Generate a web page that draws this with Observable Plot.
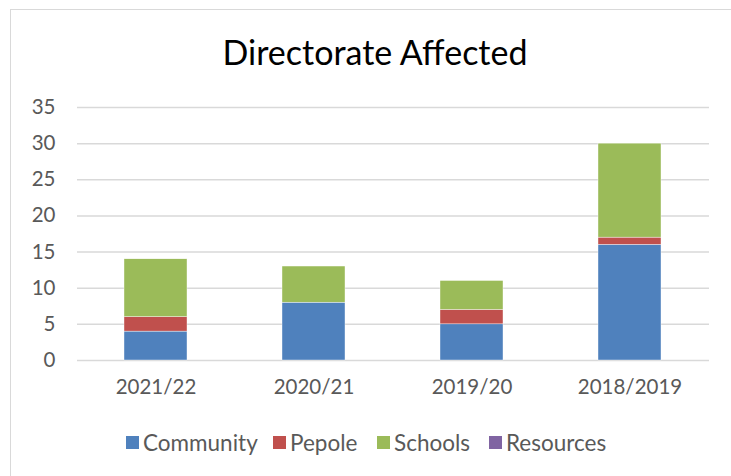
<!DOCTYPE html>
<html><head><meta charset="utf-8">
<script src="https://cdn.jsdelivr.net/npm/d3@7"></script>
<script src="https://cdn.jsdelivr.net/npm/@observablehq/plot@0.6"></script>
<style>
body{margin:0;background:#fff;font-family:Lato,"Open Sans",sans-serif;}
#box{position:absolute;left:10px;top:9px;width:760px;height:520px;border:1px solid #d9d9d9;box-sizing:border-box;}
#title{position:absolute;left:0;width:750px;top:31px;text-align:center;font-size:34px;color:#000;font-family:Lato,"Open Sans",sans-serif;}
#chart{position:absolute;left:0;top:90px;}
#legend{position:absolute;top:429px;left:0;width:731px;height:26px;font-size:22.5px;color:#595959;}
.item{position:absolute;top:0;display:flex;align-items:center;}
.sw{width:13px;height:13px;margin-right:4px;}
</style></head>
<body>
<div id="box"></div>
<div id="title">Directorate Affected</div>
<div id="chart"></div>
<div id="legend"></div>
<script>
const categories = ["2021/22","2020/21","2019/20","2018/2019"];
const seriesNames = ["Community","Pepole","Schools","Resources"];
const community = [4, 8, 5, 16];
const pepole = [2, 0, 2, 1];
const schools = [8, 5, 4, 13];
const resources = [0, 0, 0, 0];
const colors = ["#4F81BD","#C0504D","#9BBB59","#8064A2"];
const yTicks = [0,5,10,15,20,25,30,35];

const seriesValues = [community, pepole, schools, resources];
const data = [];
seriesNames.forEach((s, si) => categories.forEach((c, ci) => data.push({category: c, series: s, value: seriesValues[si][ci]})));

const chart = Plot.plot({
  width: 731, height: 310,
  marginLeft: 77, marginRight: 22, marginTop: 17, marginBottom: 40,
  style: {fontFamily: "Lato, 'Open Sans', sans-serif", fontSize: "20.5px", color: "#595959", background: "transparent"},
  x: {domain: categories, paddingInner: 0.6, paddingOuter: 0.3, label: null, tickSize: 0, tickPadding: 19},
  y: {domain: [0, 35], ticks: yTicks, label: null, tickSize: 0, tickPadding: 22},
  color: {domain: seriesNames, range: colors},
  marks: [
    Plot.ruleY(yTicks, {stroke: "#d9d9d9", strokeWidth: 1.5}),
    Plot.barY(data, {x: "category", y: "value", fill: "series", order: seriesNames, inset: 0, stroke: "white", strokeWidth: 0.4})
  ]
});
document.getElementById("chart").appendChild(chart);

const legend = document.getElementById("legend");
const lefts = [126, 273, 377, 489];
seriesNames.forEach((s, i) => {
  const it = document.createElement("div");
  it.className = "item";
  it.style.left = lefts[i] + "px";
  const sw = document.createElement("div");
  sw.className = "sw"; sw.style.background = colors[i];
  const t = document.createElement("span"); t.textContent = s;
  it.appendChild(sw); it.appendChild(t);
  legend.appendChild(it);
});
</script>
</body></html>
